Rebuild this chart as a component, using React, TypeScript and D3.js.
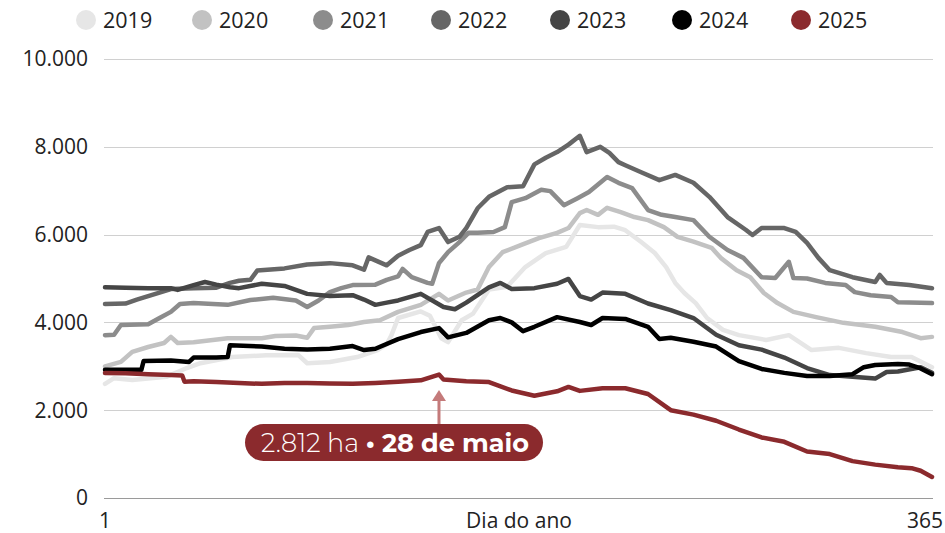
import React, { useEffect, useRef } from 'react';
import * as d3 from 'd3';

// [dia do ano, hectares]
const s2019: [number, number][] = [
  [1, 2600], [5, 2730], [13, 2690], [28, 2760], [37, 2960], [43, 3070], [57, 3210], [72, 3250],
  [86, 3260], [90, 3070], [100, 3100], [112, 3210], [121, 3370], [125, 3500], [127, 3700], [130, 4100],
  [140, 4250], [144, 4150], [149, 3640], [152, 3550], [158, 4050], [163, 4200], [170, 4750], [178, 4810],
  [186, 5260], [195, 5580], [204, 5720], [210, 6220], [218, 6170], [225, 6180], [230, 6100], [237, 5830],
  [243, 5580], [248, 5260], [252, 4900], [256, 4670], [261, 4440], [266, 4100], [273, 3830], [280, 3710],
  [292, 3600], [302, 3710], [312, 3370], [324, 3420], [336, 3300], [347, 3210], [356, 3210], [365, 2980]
];
const s2020: [number, number][] = [
  [1, 3000], [8, 3100], [13, 3330], [20, 3440], [27, 3530], [30, 3670], [33, 3530], [40, 3550],
  [55, 3640], [70, 3640], [76, 3690], [85, 3700], [90, 3650], [93, 3870], [100, 3900], [108, 3940],
  [115, 4010], [122, 4050], [130, 4240], [140, 4400], [148, 4650], [152, 4500], [160, 4680], [165, 4750],
  [170, 5260], [176, 5600], [184, 5760], [192, 5920], [200, 6040], [205, 6150], [210, 6490], [213, 6560],
  [218, 6450], [222, 6610], [228, 6510], [234, 6400], [240, 6330], [247, 6170], [253, 5950], [260, 5840],
  [268, 5700], [272, 5470], [279, 5190], [285, 5030], [291, 4670], [297, 4440], [304, 4240], [314, 4120],
  [326, 3990], [340, 3900], [352, 3780], [360, 3640], [365, 3670]
];
const s2021: [number, number][] = [
  [1, 3710], [5, 3720], [8, 3940], [20, 3960], [25, 4100], [30, 4240], [34, 4420], [40, 4440],
  [55, 4400], [65, 4510], [75, 4560], [85, 4500], [90, 4350], [95, 4500], [100, 4690], [105, 4780],
  [110, 4850], [120, 4860], [125, 4970], [130, 5050], [132, 5220], [136, 5030], [143, 4900], [145, 4880],
  [148, 5350], [152, 5600], [157, 5830], [161, 6040], [165, 6040], [172, 6060], [177, 6170], [180, 6740],
  [186, 6830], [193, 7020], [197, 6990], [203, 6670], [209, 6830], [214, 6970], [222, 7310], [227, 7180],
  [233, 7060], [240, 6560], [246, 6450], [252, 6400], [260, 6330], [267, 5950], [275, 5650], [282, 5470],
  [290, 5030], [296, 5010], [302, 5380], [304, 5010], [310, 5000], [318, 4900], [327, 4850], [331, 4690],
  [338, 4620], [347, 4580], [350, 4460], [365, 4440]
];
const s2022: [number, number][] = [
  [1, 4420], [10, 4430], [15, 4520], [20, 4600], [30, 4760], [40, 4780], [50, 4790], [56, 4900],
  [60, 4950], [65, 4970], [68, 5180], [80, 5230], [90, 5320], [100, 5350], [110, 5300], [115, 5200],
  [117, 5480], [125, 5300], [130, 5520], [135, 5650], [140, 5760], [143, 6060], [148, 6150], [152, 5830],
  [157, 5950], [160, 6150], [165, 6600], [170, 6860], [178, 7080], [185, 7100], [190, 7600], [195, 7750],
  [200, 7880], [205, 8050], [210, 8250], [213, 7880], [219, 8000], [223, 7860], [227, 7650], [230, 7580],
  [237, 7420], [245, 7240], [252, 7360], [260, 7180], [267, 6860], [275, 6400], [283, 6110], [286, 5990],
  [290, 6150], [300, 6150], [305, 6060], [310, 5810], [315, 5470], [320, 5190], [330, 5030], [340, 4920],
  [342, 5080], [345, 4900], [355, 4850], [365, 4780]
];
const s2023: [number, number][] = [
  [1, 4800], [10, 4790], [20, 4780], [30, 4780], [33, 4740], [40, 4850], [45, 4920], [50, 4860],
  [56, 4800], [60, 4780], [70, 4880], [80, 4830], [90, 4650], [100, 4600], [110, 4620], [115, 4520],
  [120, 4400], [125, 4450], [130, 4500], [140, 4650], [150, 4350], [155, 4300], [160, 4450], [170, 4800],
  [175, 4900], [180, 4760], [190, 4780], [200, 4880], [205, 4990], [210, 4600], [215, 4520], [220, 4680],
  [230, 4650], [240, 4430], [250, 4280], [260, 4100], [270, 3720], [280, 3480], [290, 3380], [300, 3200],
  [310, 2960], [320, 2800], [330, 2760], [340, 2720], [345, 2870], [350, 2880], [360, 2980], [365, 2850]
];
const s2024: [number, number][] = [
  [1, 2920], [10, 2920], [17, 2920], [18, 3120], [30, 3130], [38, 3100], [40, 3200], [50, 3200],
  [55, 3210], [56, 3480], [70, 3450], [80, 3400], [90, 3380], [100, 3400], [110, 3460], [115, 3370],
  [120, 3400], [130, 3620], [140, 3780], [148, 3870], [152, 3660], [160, 3760], [170, 4050], [175, 4100],
  [180, 4000], [185, 3800], [190, 3900], [200, 4120], [210, 4010], [215, 3940], [220, 4100], [230, 4080],
  [240, 3900], [245, 3620], [250, 3650], [260, 3560], [270, 3450], [280, 3120], [290, 2940], [300, 2850],
  [310, 2780], [320, 2780], [330, 2820], [335, 2980], [340, 3030], [350, 3050], [355, 3040], [360, 2950],
  [365, 2820]
];
const s2025: [number, number][] = [
  [1, 2850], [10, 2840], [20, 2820], [30, 2800], [35, 2790], [36, 2650], [40, 2660], [50, 2640],
  [60, 2620], [70, 2600], [80, 2620], [90, 2620], [100, 2610], [110, 2600], [120, 2620], [130, 2650],
  [140, 2680], [148, 2812], [150, 2700], [160, 2660], [170, 2640], [180, 2450], [190, 2330], [200, 2430],
  [205, 2530], [210, 2440], [220, 2500], [230, 2500], [240, 2370], [250, 2000], [260, 1900], [270, 1760],
  [280, 1560], [290, 1380], [300, 1280], [310, 1060], [320, 1000], [330, 840], [340, 760], [350, 700],
  [356, 680], [360, 620], [365, 480]
];

const years = ['2019', '2020', '2021', '2022', '2023', '2024', '2025'];
const colors = ['#e6e6e6', '#c2c2c2', '#8c8c8c', '#666666', '#454545', '#000000', '#8b2a2d'];
const allSeries = [s2019, s2020, s2021, s2022, s2023, s2024, s2025];
const yTicks = [0, 2000, 4000, 6000, 8000, 10000];
const noteDay = 148;
const noteDate = '28 de maio';

const fmt = (v: number) => d3.format(',')(v).replace(/,/g, '.');

const App = () => {
  const svgRef = useRef<SVGSVGElement | null>(null);

  useEffect(() => {
    document.body.style.margin = '0';
    document.body.style.overflow = 'hidden';

    const width = 945;
    const height = 533;
    const margin = { top: 59, right: 13, bottom: 35, left: 105 };

    const svg = d3.select(svgRef.current);
    svg.selectAll('*').remove();
    svg.attr('width', width).attr('height', height);

    const x = d3.scaleLinear().domain([1, 365]).range([margin.left, width - margin.right]);
    const y = d3.scaleLinear().domain([0, 10000]).range([height - margin.bottom, margin.top]);

    // legenda
    const legend = svg.append('g').attr('font-family', '"Open Sans", sans-serif');
    const legendX = [86, 202, 323, 441, 560, 682, 801];
    years.forEach((yr, i) => {
      const g = legend.append('g').attr('transform', `translate(${legendX[i]},20)`);
      g.append('circle').attr('r', 10).attr('fill', colors[i]);
      g.append('text').attr('x', 17).attr('y', 7.5).attr('font-size', 21.5).attr('fill', '#222').text(yr);
    });

    // grade e eixo y
    const grid = svg.append('g');
    grid.selectAll('line').data(yTicks).join('line')
      .attr('x1', margin.left - 1).attr('x2', width - margin.right + 1)
      .attr('y1', d => Math.round(y(d)) + 0.5).attr('y2', d => Math.round(y(d)) + 0.5)
      .attr('stroke', d => (d === 0 ? '#9a9a9a' : '#d0d0d0')).attr('stroke-width', 1.2);
    grid.selectAll('text').data(yTicks).join('text')
      .attr('x', 88).attr('y', d => y(d)).attr('dy', '0.35em')
      .attr('text-anchor', 'end').attr('font-size', 21).attr('fill', '#222')
      .attr('font-family', '"Open Sans", sans-serif')
      .text(d => fmt(d));

    // eixo x
    const xa = svg.append('g').attr('font-family', '"Open Sans", sans-serif').attr('font-size', 21).attr('fill', '#222');
    xa.append('text').attr('x', x(1)).attr('y', 528).attr('text-anchor', 'middle').text('1');
    xa.append('text').attr('x', 943).attr('y', 528).attr('text-anchor', 'end').text('365');
    xa.append('text').attr('x', 519).attr('y', 528).attr('text-anchor', 'middle').text('Dia do ano');

    // linhas
    const line = d3.line<[number, number]>()
      .x(d => x(d[0]))
      .y(d => y(d[1]))
      .curve(d3.curveLinear);

    svg.append('g').selectAll('path').data(allSeries).join('path')
      .attr('d', d => line(d))
      .attr('fill', 'none')
      .attr('stroke', (_, i) => colors[i])
      .attr('stroke-width', 4.5)
      .attr('stroke-linejoin', 'round')
      .attr('stroke-linecap', 'round');

    // anotação
    const point = s2025.find(d => d[0] === noteDay)!;
    const ax = x(noteDay);
    const note = svg.append('g');
    note.append('line')
      .attr('x1', ax).attr('x2', ax).attr('y1', 398).attr('y2', 426)
      .attr('stroke', '#c47a7a').attr('stroke-width', 3);
    note.append('path')
      .attr('d', `M${ax},390 L${ax - 7},401 L${ax + 7},401 Z`)
      .attr('fill', '#c47a7a');
    note.append('rect')
      .attr('x', 245).attr('y', 424).attr('width', 298).attr('height', 37).attr('rx', 18.5)
      .attr('fill', '#8b2a2d');
    const t = note.append('text')
      .attr('x', 395).attr('y', 451.5).attr('text-anchor', 'middle')
      .attr('font-family', 'Montserrat, Lato, "Open Sans", sans-serif')
      .attr('font-size', 25.5).attr('fill', '#fff');
    t.append('tspan').attr('font-weight', 300).text(`${fmt(point[1])} ha `);
    t.append('tspan').attr('font-weight', 700).text(`• ${noteDate}`);
  }, []);

  return (
    <div>
      <svg ref={svgRef} style={{ display: 'block' }}></svg>
    </div>
  );
};

export default App;
